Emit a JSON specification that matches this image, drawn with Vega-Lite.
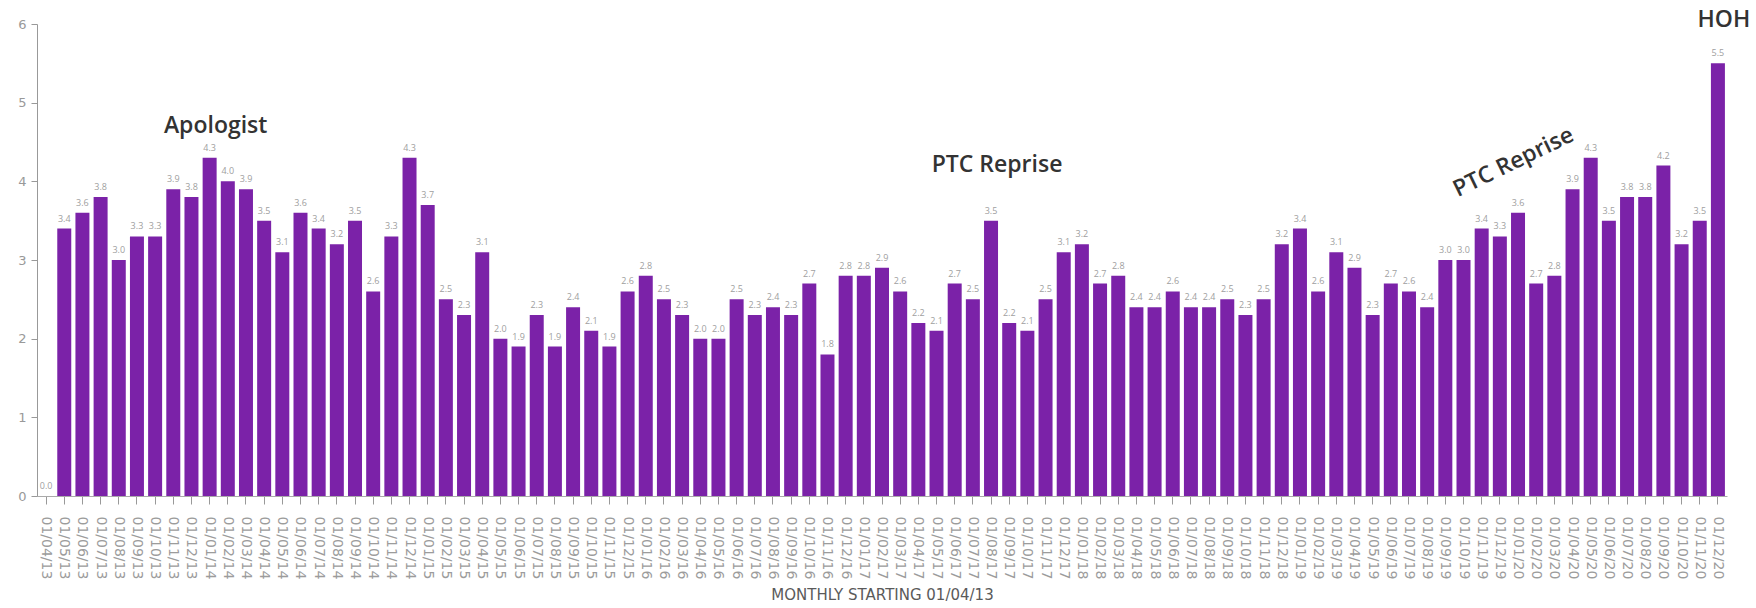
{
  "$schema": "https://vega.github.io/schema/vega-lite/v6.json",
  "autosize": {"type": "none"},
  "padding": {"left": 37, "top": 24, "right": 29, "bottom": 112},
  "width": 1690,
  "height": 472,
  "background": "white",
  "config": {
    "view": {"stroke": null},
    "font": "Open Sans"
  },
  "datasets": {
    "monthly": [
      {"month": "01/04/13", "value": 0.0},
      {"month": "01/05/13", "value": 3.4},
      {"month": "01/06/13", "value": 3.6},
      {"month": "01/07/13", "value": 3.8},
      {"month": "01/08/13", "value": 3.0},
      {"month": "01/09/13", "value": 3.3},
      {"month": "01/10/13", "value": 3.3},
      {"month": "01/11/13", "value": 3.9},
      {"month": "01/12/13", "value": 3.8},
      {"month": "01/01/14", "value": 4.3},
      {"month": "01/02/14", "value": 4.0},
      {"month": "01/03/14", "value": 3.9},
      {"month": "01/04/14", "value": 3.5},
      {"month": "01/05/14", "value": 3.1},
      {"month": "01/06/14", "value": 3.6},
      {"month": "01/07/14", "value": 3.4},
      {"month": "01/08/14", "value": 3.2},
      {"month": "01/09/14", "value": 3.5},
      {"month": "01/10/14", "value": 2.6},
      {"month": "01/11/14", "value": 3.3},
      {"month": "01/12/14", "value": 4.3},
      {"month": "01/01/15", "value": 3.7},
      {"month": "01/02/15", "value": 2.5},
      {"month": "01/03/15", "value": 2.3},
      {"month": "01/04/15", "value": 3.1},
      {"month": "01/05/15", "value": 2.0},
      {"month": "01/06/15", "value": 1.9},
      {"month": "01/07/15", "value": 2.3},
      {"month": "01/08/15", "value": 1.9},
      {"month": "01/09/15", "value": 2.4},
      {"month": "01/10/15", "value": 2.1},
      {"month": "01/11/15", "value": 1.9},
      {"month": "01/12/15", "value": 2.6},
      {"month": "01/01/16", "value": 2.8},
      {"month": "01/02/16", "value": 2.5},
      {"month": "01/03/16", "value": 2.3},
      {"month": "01/04/16", "value": 2.0},
      {"month": "01/05/16", "value": 2.0},
      {"month": "01/06/16", "value": 2.5},
      {"month": "01/07/16", "value": 2.3},
      {"month": "01/08/16", "value": 2.4},
      {"month": "01/09/16", "value": 2.3},
      {"month": "01/10/16", "value": 2.7},
      {"month": "01/11/16", "value": 1.8},
      {"month": "01/12/16", "value": 2.8},
      {"month": "01/01/17", "value": 2.8},
      {"month": "01/02/17", "value": 2.9},
      {"month": "01/03/17", "value": 2.6},
      {"month": "01/04/17", "value": 2.2},
      {"month": "01/05/17", "value": 2.1},
      {"month": "01/06/17", "value": 2.7},
      {"month": "01/07/17", "value": 2.5},
      {"month": "01/08/17", "value": 3.5},
      {"month": "01/09/17", "value": 2.2},
      {"month": "01/10/17", "value": 2.1},
      {"month": "01/11/17", "value": 2.5},
      {"month": "01/12/17", "value": 3.1},
      {"month": "01/01/18", "value": 3.2},
      {"month": "01/02/18", "value": 2.7},
      {"month": "01/03/18", "value": 2.8},
      {"month": "01/04/18", "value": 2.4},
      {"month": "01/05/18", "value": 2.4},
      {"month": "01/06/18", "value": 2.6},
      {"month": "01/07/18", "value": 2.4},
      {"month": "01/08/18", "value": 2.4},
      {"month": "01/09/18", "value": 2.5},
      {"month": "01/10/18", "value": 2.3},
      {"month": "01/11/18", "value": 2.5},
      {"month": "01/12/18", "value": 3.2},
      {"month": "01/01/19", "value": 3.4},
      {"month": "01/02/19", "value": 2.6},
      {"month": "01/03/19", "value": 3.1},
      {"month": "01/04/19", "value": 2.9},
      {"month": "01/05/19", "value": 2.3},
      {"month": "01/06/19", "value": 2.7},
      {"month": "01/07/19", "value": 2.6},
      {"month": "01/08/19", "value": 2.4},
      {"month": "01/09/19", "value": 3.0},
      {"month": "01/10/19", "value": 3.0},
      {"month": "01/11/19", "value": 3.4},
      {"month": "01/12/19", "value": 3.3},
      {"month": "01/01/20", "value": 3.6},
      {"month": "01/02/20", "value": 2.7},
      {"month": "01/03/20", "value": 2.8},
      {"month": "01/04/20", "value": 3.9},
      {"month": "01/05/20", "value": 4.3},
      {"month": "01/06/20", "value": 3.5},
      {"month": "01/07/20", "value": 3.8},
      {"month": "01/08/20", "value": 3.8},
      {"month": "01/09/20", "value": 4.2},
      {"month": "01/10/20", "value": 3.2},
      {"month": "01/11/20", "value": 3.5},
      {"month": "01/12/20", "value": 5.5}
    ],
    "notes": [
      {"month": "01/01/14", "level": 4.7, "note": "Apologist", "tilt": "flat"},
      {"month": "01/08/17", "level": 4.21, "note": "PTC Reprise", "tilt": "flat"},
      {"month": "01/01/20", "level": 4.27, "note": "PTC Reprise", "tilt": "tilted"},
      {"month": "01/12/20", "level": 6.05, "note": "HOH", "tilt": "flat"}
    ]
  },
  "encoding": {
    "x": {
      "field": "month",
      "type": "ordinal",
      "sort": null,
      "scale": {"paddingInner": 0.23, "paddingOuter": 0.115},
      "axis": {
        "title": "MONTHLY STARTING 01/04/13",
        "titleFont": "DejaVu Sans",
        "titleFontSize": 15,
        "titleFontWeight": "normal",
        "titleColor": "#5a5a5a",
        "titlePadding": 9,
        "labelAngle": 90,
        "labelFont": "DejaVu Sans",
        "labelFontSize": 14,
        "labelColor": "#9c9c9c",
        "labelPadding": 12,
        "tickSize": 8,
        "tickColor": "#999999",
        "domainColor": "#aaaaaa"
      }
    },
    "y": {
      "field": "value",
      "type": "quantitative",
      "scale": {"domain": [0, 6], "nice": false},
      "axis": {
        "title": null,
        "values": [0, 1, 2, 3, 4, 5, 6],
        "grid": false,
        "labelFont": "DejaVu Sans",
        "labelFontSize": 13,
        "labelColor": "#999999",
        "labelPadding": 5,
        "tickSize": 6,
        "tickColor": "#999999",
        "domainColor": "#999999"
      }
    }
  },
  "layer": [
    {
      "data": {"name": "monthly"},
      "mark": {"type": "bar", "color": "#7B22A8"}
    },
    {
      "data": {"name": "monthly"},
      "mark": {"type": "text", "baseline": "bottom", "dy": -5, "fontSize": 9, "color": "#a0a0a0"},
      "encoding": {
        "text": {"field": "value", "type": "quantitative", "format": ".1f"}
      }
    },
    {
      "data": {"name": "notes"},
      "transform": [{"filter": "datum.tilt === 'flat'"}],
      "mark": {"type": "text", "fontSize": 23, "fontWeight": 600, "color": "#333333", "baseline": "middle", "align": "center", "dx": 6},
      "encoding": {
        "y": {"field": "level", "type": "quantitative"},
        "text": {"field": "note", "type": "nominal"}
      }
    },
    {
      "data": {"name": "notes"},
      "transform": [{"filter": "datum.tilt === 'tilted'"}],
      "mark": {"type": "text", "fontSize": 23, "fontWeight": 600, "color": "#333333", "baseline": "middle", "align": "center", "angle": -26, "dx": -5},
      "encoding": {
        "y": {"field": "level", "type": "quantitative"},
        "text": {"field": "note", "type": "nominal"}
      }
    }
  ]
}
